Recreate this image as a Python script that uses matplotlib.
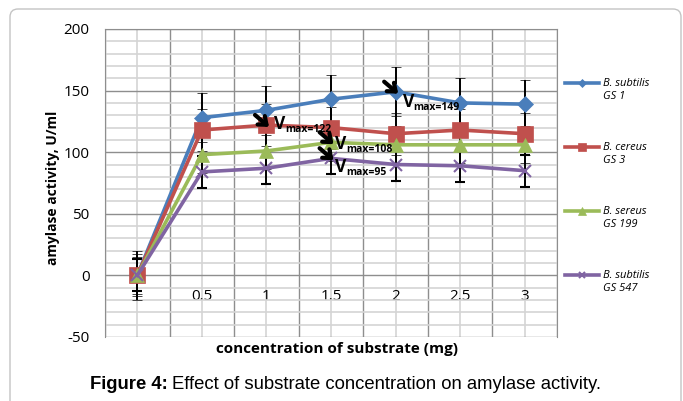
import numpy as np
import matplotlib
matplotlib.use('Agg')
import matplotlib.pyplot as plt
from matplotlib.patches import FancyBboxPatch
from matplotlib.transforms import IdentityTransform
from matplotlib.legend_handler import HandlerLine2D

# Data
concentration = ['', '0.5', '1', '1.5', '2', '2.5', '3']
strains = ['B. subtilis\nGS 1', 'B. cereus\nGS 3', 'B. sereus\nGS 199', 'B. subtilis\nGS 547']
subtilis_gs1 = [0, 128, 134, 143, 149, 140, 139]
cereus_gs3 = [0, 118, 122, 120, 115, 118, 115]
sereus_gs199 = [0, 98, 101, 108, 106, 106, 106]
subtilis_gs547 = [0, 84, 87, 95, 90, 89, 85]
errors = [20, 17, 15, 13]

series = [subtilis_gs1, cereus_gs3, sereus_gs199, subtilis_gs547]
colors = ['#4a7ebb', '#c0504d', '#9bbb59', '#8064a2']
markers = ['D', 's', '^', 'x']
msizes = [8, 11, 10, 9]

plt.rcParams['font.family'] = ['Open Sans', 'DejaVu Sans']
plt.rcParams['axes.unicode_minus'] = False

fig = plt.figure(figsize=(6.83, 4.01), dpi=100)
ax = fig.add_axes([105 / 683, 1 - 337 / 401, 452 / 683, 308 / 401])

x = np.arange(len(concentration))
for i, vals in enumerate(series):
    ax.errorbar(x, vals, yerr=errors[i], color=colors[i], lw=2.6,
                marker=markers[i], ms=msizes[i], mew=1.5 if markers[i] == 'x' else 0.5,
                mec=colors[i], ecolor='black', elinewidth=1.4, capsize=3.5,
                capthick=1.2, label=strains[i], zorder=3 + i * 0.01)

ax.set_xlim(-0.5, len(concentration) - 0.5)
ax.set_ylim(-50, 200)
ax.set_xticks(x)
ax.set_xticklabels(concentration)
ax.set_xticks(np.arange(-0.5, len(concentration)), minor=True)
ax.set_yticks(np.arange(-50, 201, 50))
ax.set_yticks(np.arange(-50, 201, 10), minor=True)

light = '#d4d4d4'
dark = '#8e8e8e'
ax.grid(axis='x', which='major', color=light, lw=1.2)
ax.grid(axis='x', which='minor', color=dark, lw=1.0)
ax.grid(axis='y', which='minor', color=light, lw=1.2)
ax.grid(axis='y', which='major', color=dark, lw=1.0)
ax.set_axisbelow(True)

for s in ['left', 'right', 'top']:
    ax.spines[s].set_color(dark)
ax.spines['bottom'].set_position(('data', 0))
ax.spines['bottom'].set_color('none')
ax.tick_params(which='both', length=0)
ax.tick_params(axis='x', pad=10, labelsize=11)
ax.tick_params(axis='y', pad=11, labelsize=11)

ax.set_ylabel('amylase activity, U/ml', fontsize=10, fontweight='bold')
ax.yaxis.set_label_coords(-0.1, 0.484)
fig.text(337 / 683, 1 - 349 / 401, 'concentration of substrate (mg)',
         fontsize=11, fontweight='bold', ha='center', va='center')

# Vmax annotations
v_offsets = [(7, -15), (8, -4), (4, -7), (4, -14)]
for i, vals in enumerate(series):
    k = int(np.argmax(vals))
    vmax = vals[k]
    ax.annotate('', xy=(k + 0.04, vmax - 1.5), xytext=(-14, 12), textcoords='offset pixels',
                arrowprops=dict(arrowstyle='->,head_length=0.5,head_width=0.4',
                                lw=3.0, color='black', shrinkA=0, shrinkB=0),
                zorder=6)
    dx, dy = v_offsets[i]
    ax.annotate('V', xy=(k, vmax), xytext=(dx, dy), textcoords='offset pixels',
                fontsize=12.5, fontweight='bold', va='baseline', ha='left', zorder=6)
    ax.annotate('max=%d' % vmax, xy=(k, vmax), xytext=(dx + 11, dy - 3),
                textcoords='offset pixels', fontsize=7.5, fontweight='bold',
                va='baseline', ha='left', zorder=6)


class TopHandler(HandlerLine2D):
    def create_artists(self, legend, orig_handle, xdescent, ydescent,
                       width, height, fontsize, trans):
        arts = super().create_artists(legend, orig_handle, xdescent, ydescent,
                                      width, height, fontsize, trans)
        for a in arts:
            a.set_ydata(np.asarray(a.get_ydata(), dtype=float) + 0.62 * fontsize)
        return arts


handles, labels = ax.get_legend_handles_labels()
line_handles = [h[0] for h in handles]
leg = fig.legend(line_handles, labels, loc='upper left',
                 bbox_to_anchor=(565 / 683, 1 - 78 / 401), frameon=False,
                 prop={'style': 'italic', 'size': 8}, handlelength=3.1,
                 handletextpad=0.3, labelspacing=3.65, borderpad=0,
                 borderaxespad=0, markerscale=0.55,
                 handler_map={matplotlib.lines.Line2D: TopHandler()})

# outer rounded frame
frame = FancyBboxPatch((10, -20), 671, 412, boxstyle='round,pad=0,rounding_size=8',
                       transform=IdentityTransform(), fill=False,
                       edgecolor='#c4c4c4', lw=1.0)
fig.add_artist(frame)

# caption
t1 = fig.text(90 / 683, 1 - 389 / 401, 'Figure 4:', fontsize=13.3, fontweight='bold',
              family='Liberation Sans', va='baseline', ha='left')
fig.canvas.draw()
bb = t1.get_window_extent()
fig.text(bb.x1 / 683 + 4 / 683, 1 - 389 / 401,
         'Effect of substrate concentration on amylase activity.',
         fontsize=13.3, family='Liberation Sans', va='baseline', ha='left')

fig.savefig('out.png', dpi=100)
